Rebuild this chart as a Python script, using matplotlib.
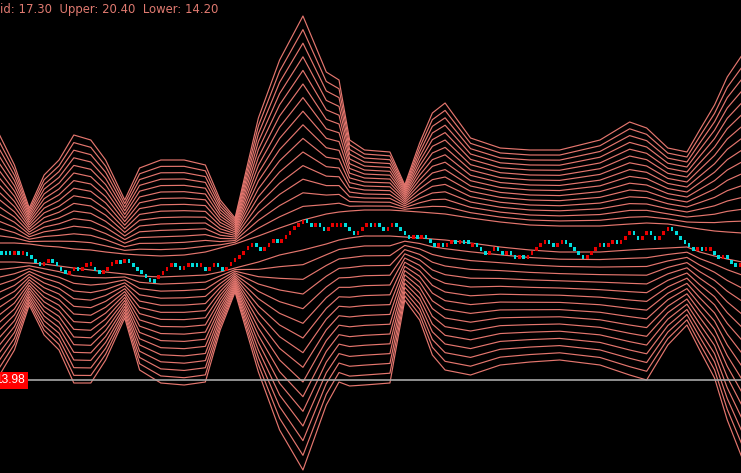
import numpy as np
import matplotlib
matplotlib.use("Agg")
import matplotlib.pyplot as plt
from matplotlib.patches import Rectangle

# ---- candle data (price) ----
opens = [17.85, 17.85, 17.85, 17.73, 17.85, 17.73, 17.82, 17.73, 17.61, 17.52,
         17.40, 17.49, 17.61, 17.52, 17.37, 17.28, 17.13, 17.25, 17.37, 17.25,
         17.37, 17.40, 17.37, 17.28, 17.16, 17.25, 17.40, 17.46, 17.58, 17.49,
         17.61, 17.49, 17.37, 17.28, 17.16, 17.04, 17.01, 17.01, 17.13, 17.25,
         17.37, 17.49, 17.40, 17.28, 17.37, 17.49, 17.49, 17.37, 17.37, 17.25,
         17.37, 17.49, 17.37, 17.25, 17.40, 17.52, 17.61, 17.73, 17.88, 17.97,
         18.09, 17.97, 17.85, 17.97, 18.09, 18.21, 18.09, 18.21, 18.33, 18.48,
         18.57, 18.66, 18.81, 18.69, 18.57, 18.69, 18.57, 18.45, 18.57, 18.57,
         18.57, 18.69, 18.57, 18.45, 18.33, 18.45, 18.57, 18.69, 18.57, 18.69,
         18.57, 18.45, 18.57, 18.69, 18.57, 18.45, 18.33, 18.21, 18.33, 18.21,
         18.33, 18.21, 18.09, 17.97, 18.09, 17.97, 18.06, 18.18, 18.06, 18.18,
         18.18, 17.97, 18.09, 17.97, 17.85, 17.73, 17.85, 17.97, 17.85, 17.73,
         17.85, 17.73, 17.61, 17.73, 17.61, 17.73, 17.85, 17.97, 18.06, 18.18,
         18.09, 17.97, 18.06, 18.18, 18.09, 17.97, 17.85, 17.73, 17.61, 17.73,
         17.85, 17.97, 18.09, 17.97, 18.06, 18.18, 18.06, 18.18, 18.33, 18.45,
         18.30, 18.18, 18.33, 18.45, 18.30, 18.18, 18.33, 18.45, 18.57, 18.45,
         18.30, 18.18, 18.09, 17.97, 17.85, 17.97, 17.85, 17.85, 17.85, 17.73,
         17.61, 17.73, 17.58, 17.49, 17.37]
closes = [17.73, 17.73, 17.73, 17.85, 17.73, 17.85, 17.70, 17.61, 17.49, 17.40,
          17.52, 17.61, 17.49, 17.40, 17.25, 17.16, 17.25, 17.37, 17.25, 17.37,
          17.49, 17.52, 17.25, 17.16, 17.28, 17.37, 17.52, 17.58, 17.46, 17.61,
          17.49, 17.37, 17.25, 17.16, 17.04, 16.92, 16.89, 17.13, 17.25, 17.37,
          17.49, 17.37, 17.28, 17.40, 17.49, 17.37, 17.37, 17.49, 17.25, 17.37,
          17.49, 17.37, 17.25, 17.37, 17.52, 17.64, 17.73, 17.85, 18.00, 18.09,
          17.97, 17.85, 17.97, 18.09, 18.21, 18.09, 18.21, 18.33, 18.45, 18.60,
          18.69, 18.78, 18.69, 18.57, 18.69, 18.57, 18.45, 18.57, 18.69, 18.69,
          18.69, 18.57, 18.45, 18.33, 18.45, 18.57, 18.69, 18.57, 18.69, 18.57,
          18.45, 18.57, 18.69, 18.57, 18.45, 18.33, 18.21, 18.33, 18.21, 18.33,
          18.21, 18.09, 17.97, 18.09, 17.97, 18.09, 18.18, 18.06, 18.18, 18.06,
          18.06, 18.09, 17.97, 17.85, 17.73, 17.85, 17.97, 17.85, 17.73, 17.85,
          17.73, 17.61, 17.73, 17.61, 17.73, 17.85, 17.97, 18.09, 18.18, 18.06,
          17.97, 18.09, 18.18, 18.06, 17.97, 17.85, 17.73, 17.61, 17.73, 17.85,
          17.97, 18.09, 17.97, 18.09, 18.18, 18.06, 18.18, 18.30, 18.45, 18.33,
          18.18, 18.30, 18.45, 18.33, 18.18, 18.30, 18.45, 18.57, 18.45, 18.33,
          18.18, 18.06, 17.97, 17.85, 17.97, 17.85, 17.97, 17.97, 17.73, 17.61,
          17.73, 17.61, 17.46, 17.37, 17.49]

# ---- envelope band data (price) at sample bars ----
env_bars = [-0.5, 3, 6.5, 10, 13.5, 17, 21, 24.5, 29, 32.5, 37.5, 43, 48, 51.5,
            55, 60.5, 65.5, 71, 76.5, 79.5, 82, 85.5, 91.5, 95, 98.5, 101.5,
            104.5, 110.5, 117.5, 124.5, 131.5, 141, 148, 152, 157, 161.5, 164.5,
            168, 171, 174.5]
upper_outer = [21.33, 20.43, 19.14, 20.13, 20.58, 21.33, 21.18, 20.58, 19.38,
               20.34, 20.58, 20.58, 20.43, 19.38, 18.84, 21.84, 23.58, 24.90,
               23.22, 22.98, 21.18, 20.88, 20.82, 19.83, 21.09, 21.99, 22.29,
               21.24, 20.94, 20.88, 20.88, 21.18, 21.72, 21.54, 20.94, 20.82,
               21.48, 22.23, 23.07, 23.73]
upper_inner = [18.09, 18.09, 18.06, 18.00, 17.97, 17.91, 17.88, 17.82, 17.76,
               17.73, 17.70, 17.73, 17.82, 17.94, 18.06, 18.30, 18.54, 18.78,
               18.96, 19.02, 19.05, 19.08, 19.08, 19.05, 19.02, 18.99, 18.96,
               18.84, 18.72, 18.63, 18.60, 18.60, 18.66, 18.69, 18.66, 18.57,
               18.51, 18.45, 18.42, 18.39]
lower_inner = [17.52, 17.52, 17.49, 17.46, 17.40, 17.34, 17.28, 17.22, 17.16,
               17.10, 17.07, 17.10, 17.13, 17.22, 17.34, 17.52, 17.73, 17.88,
               18.06, 18.18, 18.24, 18.30, 18.30, 18.27, 18.24, 18.21, 18.18,
               18.09, 17.97, 17.88, 17.82, 17.82, 17.88, 17.91, 17.94, 17.97,
               17.82, 17.70, 17.61, 17.52]
lower_outer = [14.13, 14.88, 16.23, 15.33, 14.88, 13.89, 13.89, 14.58, 15.84,
               14.28, 13.89, 13.83, 13.92, 15.48, 16.62, 14.22, 12.48, 11.28,
               13.23, 13.92, 13.80, 13.83, 13.89, 16.38, 15.78, 14.73, 14.28,
               14.13, 14.43, 14.52, 14.58, 14.43, 14.13, 13.98, 15.03, 15.63,
               14.88, 14.04, 12.78, 11.64]
band_levels = list(range(16))

hline_price = 13.98
hline_label = "13.98"
header_text = "Mid: 17.30  Upper: 20.40  Lower: 14.20"

# ---- figure ----
W, H, DPI = 741, 473, 100
fig = plt.figure(figsize=(W / DPI, H / DPI), dpi=DPI, facecolor="black")
ax = fig.add_axes([0, 0, 1, 1])
ax.set_facecolor("black")
ax.set_xlim(-0.40, 174.24)
ax.set_ylim(11.19, 25.38)
ax.axis("off")

line_col = "#e4766e"
eb = np.array(env_bars)
uo, ui = np.array(upper_outer), np.array(upper_inner)
lo, li = np.array(lower_outer), np.array(lower_inner)
nl = len(band_levels) - 1
for k in band_levels:
    f = k / nl
    ax.plot(eb, ui + f * (uo - ui), color=line_col, lw=0.85, zorder=2)
    ax.plot(eb, li + f * (lo - li), color=line_col, lw=0.85, zorder=2)

# horizontal price line
ax.axhline(hline_price, color="#a8a8a8", lw=1.2, zorder=3)

# candles
o = np.array(opens)
c = np.array(closes)
idx = np.arange(len(c))
cols = np.where(c >= o, "#e80000", "#00dcdc")
ax.bar(idx, c - o, bottom=o, width=0.6, color=cols, linewidth=0, zorder=4)

# price label box (partly outside left edge)
trans = ax.get_yaxis_transform()
ax.add_patch(Rectangle((0, hline_price - 0.255), 28 / W, 0.51, transform=trans,
                       facecolor="#ff0000", edgecolor="none", zorder=5, clip_on=False))
ax.text(24.5 / W, hline_price, hline_label, transform=trans, ha="right", va="center",
        color="white", fontsize=8.6, family="Liberation Sans", zorder=6)

# header text (left part clipped by the figure edge)
fig.text(-10 / W, 1 - 13 / H, header_text, color="#e07a70", fontsize=8.4,
         family="DejaVu Sans", ha="left", va="baseline")

fig.savefig("out.png", dpi=DPI, facecolor="black")
